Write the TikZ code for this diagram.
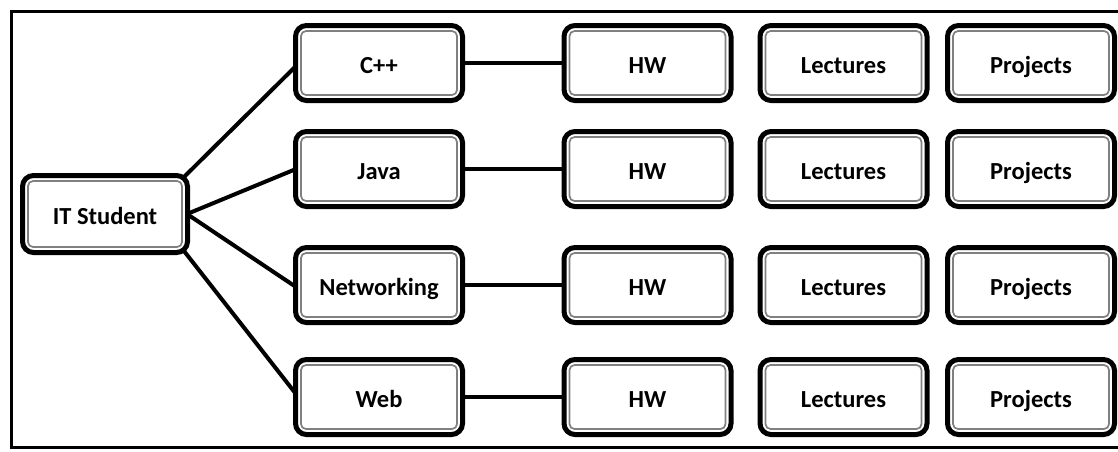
\documentclass[tikz,border=0pt]{standalone}
\usepackage{fontspec}
\setmainfont{Carlito}
\usetikzlibrary{calc,backgrounds}
\begin{document}
\begin{tikzpicture}[x=1pt,y=-1pt,
  bx/.style={draw=black, line width=5pt, rounded corners=11pt, fill=white,
    minimum width=167pt, minimum height=75pt, inner sep=0pt,
    text height=25pt, text depth=5pt,
    font=\fontsize{24.5pt}{30pt}\selectfont\bfseries},
  innerline/.style={draw=black!50, line width=1.7pt, rounded corners=5pt},
  link/.style={draw=black, line width=4pt},
  frame/.style={draw=black, line width=3pt}]
\useasboundingbox (0,0) rectangle (1118,451);
\draw[frame] (11,11) rectangle (1135,447);
% root
\node[bx, minimum width=165pt, minimum height=77pt] (it) at (105,214) {IT Student};
% first column
\node[bx] (cpp)  at (379,63)  {C++};
\node[bx] (java) at (379,169) {Java};
\node[bx] (net)  at (379,285) {Networking};
\node[bx] (web)  at (379,397) {Web};
% HW
\node[bx] (hw1) at (647.5,63)  {HW};
\node[bx] (hw2) at (647.5,169) {HW};
\node[bx] (hw3) at (647.5,285) {HW};
\node[bx] (hw4) at (647.5,397) {HW};
% Lectures
\node[bx] (lec1) at (843.5,63)  {Lectures};
\node[bx] (lec2) at (843.5,169) {Lectures};
\node[bx] (lec3) at (843.5,285) {Lectures};
\node[bx] (lec4) at (843.5,397) {Lectures};
% Projects
\node[bx] (pro1) at (1031,63)  {Projects};
\node[bx] (pro2) at (1031,169) {Projects};
\node[bx] (pro3) at (1031,285) {Projects};
\node[bx] (pro4) at (1031,397) {Projects};
% inner gray lines
\foreach \n in {it,cpp,java,net,web,hw1,hw2,hw3,hw4,lec1,lec2,lec3,lec4,pro1,pro2,pro3,pro4}
  \draw[innerline] ([shift={(8pt,8pt)}]\n.south west) rectangle ([shift={(-8pt,-8pt)}]\n.north east);
% connectors
\begin{scope}[on background layer]
\draw[link] ($(it.north east)+(-6,4)$) -- ($(cpp.west)+(3,3)$);
\draw[link] ($(it.east)+(-3,0)$) -- ($(java.west)+(3,0)$);
\draw[link] ($(it.east)+(-3,0)$) -- ($(net.west)+(3,2)$);
\draw[link] ($(it.south east)+(-6,-4)$) -- ($(web.west)+(3,-3)$);
\draw[link] ($(cpp.east)+(-3,0)$) -- ($(hw1.west)+(3,0)$);
\draw[link] ($(java.east)+(-3,0)$) -- ($(hw2.west)+(3,0)$);
\draw[link] ($(net.east)+(-3,0)$) -- ($(hw3.west)+(3,0)$);
\draw[link] ($(web.east)+(-3,0)$) -- ($(hw4.west)+(3,0)$);
\end{scope}
\end{tikzpicture}
\end{document}
